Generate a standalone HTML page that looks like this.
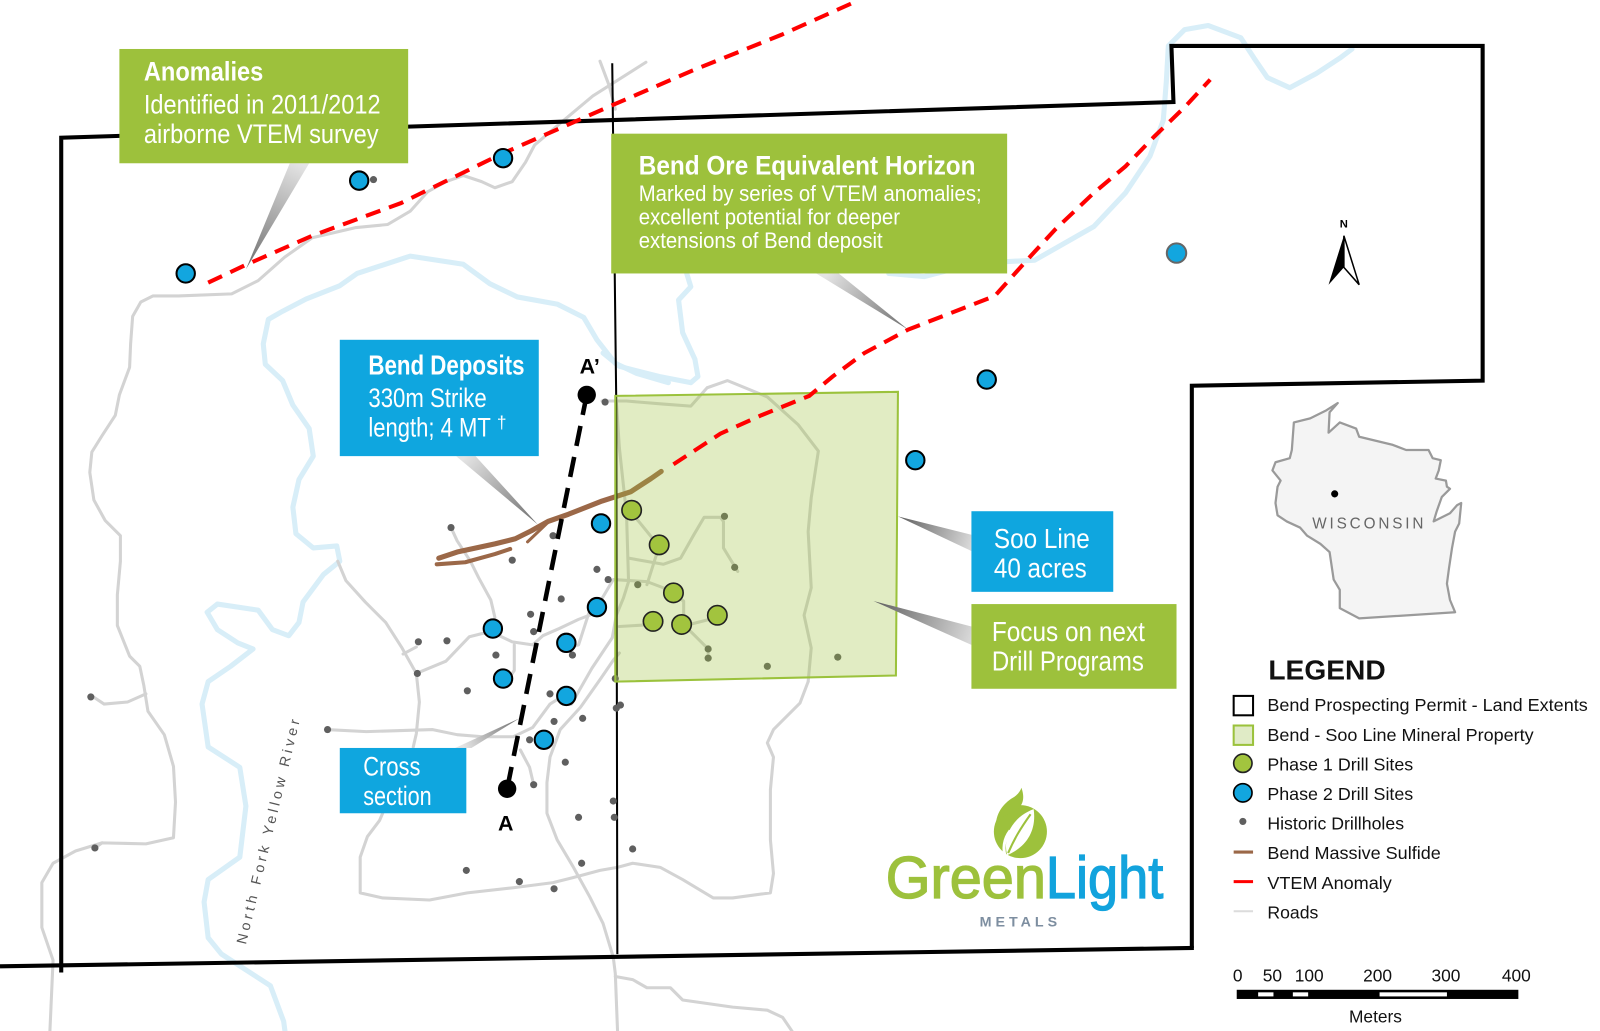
<!DOCTYPE html>
<html>
<head>
<meta charset="utf-8">
<style>
  html, body { margin:0; padding:0; background:#fff; }
  svg { display:block; }
  text { font-family: "Liberation Sans", Arial, sans-serif; }
</style>
</head>
<body>
<svg width="1600" height="1031" viewBox="0 0 1600 1031" xmlns="http://www.w3.org/2000/svg">
  <defs>
    <linearGradient id="gA" gradientUnits="userSpaceOnUse" x1="293" y1="160" x2="241" y2="264">
      <stop offset="0" stop-color="#e4e4e4"/><stop offset="1" stop-color="#6e6e6e"/>
    </linearGradient>
    <linearGradient id="gB" gradientUnits="userSpaceOnUse" x1="811" y1="268" x2="890" y2="323">
      <stop offset="0" stop-color="#e4e4e4"/><stop offset="1" stop-color="#6e6e6e"/>
    </linearGradient>
    <linearGradient id="gC" gradientUnits="userSpaceOnUse" x1="456" y1="447" x2="527" y2="514">
      <stop offset="0" stop-color="#e4e4e4"/><stop offset="1" stop-color="#6e6e6e"/>
    </linearGradient>
    <linearGradient id="gD" gradientUnits="userSpaceOnUse" x1="952" y1="531" x2="880" y2="506">
      <stop offset="0" stop-color="#d8d8d8"/><stop offset="1" stop-color="#5e5e5e"/>
    </linearGradient>
    <linearGradient id="gE" gradientUnits="userSpaceOnUse" x1="952" y1="623" x2="856" y2="589">
      <stop offset="0" stop-color="#d8d8d8"/><stop offset="1" stop-color="#5e5e5e"/>
    </linearGradient>
    <linearGradient id="gF" gradientUnits="userSpaceOnUse" x1="455" y1="733" x2="509" y2="704">
      <stop offset="0" stop-color="#e4e4e4"/><stop offset="1" stop-color="#6e6e6e"/>
    </linearGradient>
  </defs>

  <rect x="0" y="0" width="1600" height="1031" fill="#ffffff"/>

  <g transform="scale(1.0204)">

  <!-- Rivers -->
  <g fill="none" stroke="#d8eef8" stroke-width="5" stroke-linejoin="round" stroke-linecap="round">
    <polyline points="655,375 624,366 603,356 585,333 572,311 546,298 507,291 480,278 454,259 402,251 350,268 333,280 300,293 277,305 263,313 258,337 260,357 277,373 287,397 303,420 307,447 293,470 287,497 290,523 307,537 330,535 333,550 317,563 297,590 293,610 283,623 267,617 253,598 213,592 203,600 213,617 233,630 248,636 226,653 204,668 198,690 204,732 235,752 241,790 235,840 204,862 200,884 204,919 217,935 265,966 278,1001 282,1031"/>
    <polyline points="591,346 607,359 646,369 677,375 684,369 681,352 669,326 665,294 677,281 673,268"/>
    <polyline points="871,268 906,271 956,258 1014,255 1072,222 1103,189 1127,153 1140,118 1143,80 1145,45 1161,29 1184,25 1216,37 1229,57 1242,76 1264,86 1290,72 1313,57 1325,48"/>
  </g>

  <!-- Roads -->
  <g fill="none" stroke="#d3d3d3" stroke-width="3" stroke-linejoin="round" stroke-linecap="round">
    <polyline points="633,61 581,94 550,120 524,142 515,159 502,178 485,184 472,178 454,172 437,178 419,188 402,207 380,220 349,223 306,233 279,252 253,275 227,288 175,290 150,290 138,296 130,310 128,337 127,360 117,387 113,407 100,427 90,443 88,463 92,490 103,510 118,525 118,550 115,583 115,613 127,643 137,653 141,672 145,697 161,720 170,751 172,786 170,821 143,827 100,826 74,834 52,846 41,865 41,909 52,941 48,1031"/>
    <polyline points="588,60 597,84 603,107"/>
    <polyline points="90,682 102,690 125,688 143,680"/>
    <polyline points="93,831 100,826"/>
    <polyline points="442,517 448,530 461,550 469,566 481,588 485,605 483,619"/>
    <polyline points="331,550 339,569 358,590 378,610 394,635 408,660"/>
    <polyline points="408,660 437,648 460,624 476,620 483,620 502,629 522,632 532,623 548,616 567,607 580,602"/>
    <polyline points="504,632 504,657 496,669"/>
    <polyline points="408,660 411,688 408,719 405,732"/>
    <polyline points="320,715 359,717 424,715 448,720 473,722 503,722 522,713 539,690 555,680"/>
    <polyline points="607,640 601,647 588,666 569,693 549,715 539,742 536,767 536,797 546,823 562,850 578,879 591,905 601,938 603,954 606,1031"/>
    <polyline points="510,735 519,752 523,769"/>
    <polyline points="577,601 567,632 554,635"/>
    <polyline points="395,641 408,634"/>
    <polyline points="375,797 372,804 360,820 353,840 353,860 353,875 375,880 421,882 458,875 503,870 542,865 562,860 588,853 605,850 620,846 647,850 669,862 699,880 718,880 755,875 758,856 755,823 755,774 758,742 752,728 758,715 784,689 792,668"/>
    <polyline points="603,957 620,960 634,968 657,968 669,980 718,987 752,990 767,997 790,1031"/>
    <polyline points="590,393 614,393 650,396 677,398 693,380 713,373 752,389 782,416 802,442 795,488 792,521 795,576 788,603 795,635 792,668"/>
    <polyline points="604,393 607,439 614,504 616,570 611,586 604,603 600,625"/>
    <polyline points="617,501 626,511 639,527 646,535 634,573"/>
    <polyline points="585,595 601,568 634,570 650,576 660,583 670,589 670,603 668,614"/>
    <polyline points="607,614 640,612"/>
    <polyline points="668,614 703,605"/>
    <polyline points="677,619 694,636 694,645"/>
    <polyline points="616,547 650,553 667,547 680,524 690,507 706,507 709,511 709,537 723,560"/>
    <polyline points="600,625 580,655 560,690"/>
  </g>

  <!-- Bend Massive Sulfide -->
  <g fill="none" stroke="#9b6848" stroke-linecap="round" stroke-linejoin="round">
    <polyline stroke-width="5" points="430,547 448,541 485,533 505,528 521,520 537,511 557,504 590,491 618,482 638,469 648,462"/>
    <polyline stroke-width="4" points="428,553 456,551 485,543 500,538"/>
    <polyline stroke-width="3" points="517,531 537,512"/>
  </g>

  <!-- Boundary -->
  <g fill="none" stroke="#000" stroke-linejoin="miter">
    <polyline stroke-width="4" points="60,953 60,135 1150,100 1148,45 1453,45 1453,373 1168,378 1168,929"/>
    <line stroke-width="4" x1="0" y1="947" x2="1170" y2="929"/>
    <polyline stroke-width="2" points="600,62 604,400 605,935"/>
  </g>

  <!-- Historic drillholes -->
  <g fill="#5f5f5f">
    <circle cx="366" cy="176" r="3.5"/><circle cx="593" cy="394" r="3.5"/><circle cx="442" cy="517" r="3.5"/>
    <circle cx="542" cy="525" r="3.5"/><circle cx="502" cy="549" r="3.5"/><circle cx="585" cy="558" r="3.5"/>
    <circle cx="596" cy="568" r="3.5"/><circle cx="625" cy="573" r="3.5"/><circle cx="710" cy="506" r="3.5"/>
    <circle cx="720" cy="556" r="3.5"/><circle cx="550" cy="587" r="3.5"/><circle cx="520" cy="602" r="3.5"/>
    <circle cx="523" cy="619" r="3.5"/><circle cx="410" cy="629" r="3.5"/><circle cx="438" cy="628" r="3.5"/>
    <circle cx="486" cy="642" r="3.5"/><circle cx="561" cy="642" r="3.5"/><circle cx="409" cy="660" r="3.5"/>
    <circle cx="694" cy="636" r="3.5"/><circle cx="694" cy="645" r="3.5"/><circle cx="752" cy="653" r="3.5"/>
    <circle cx="821" cy="644" r="3.5"/><circle cx="458" cy="677" r="3.5"/><circle cx="539" cy="680" r="3.5"/>
    <circle cx="603" cy="665" r="3.5"/><circle cx="608" cy="691" r="3.5"/><circle cx="604" cy="694" r="3.5"/>
    <circle cx="543" cy="707" r="3.5"/><circle cx="571" cy="704" r="3.5"/><circle cx="519" cy="725" r="3.5"/>
    <circle cx="554" cy="747" r="3.5"/><circle cx="523" cy="769" r="3.5"/><circle cx="601" cy="785" r="3.5"/>
    <circle cx="602" cy="801" r="3.5"/><circle cx="567" cy="801" r="3.5"/><circle cx="620" cy="832" r="3.5"/>
    <circle cx="570" cy="846" r="3.5"/><circle cx="457" cy="853" r="3.5"/><circle cx="509" cy="864" r="3.5"/>
    <circle cx="543" cy="871" r="3.5"/><circle cx="321" cy="715" r="3.5"/><circle cx="89" cy="683" r="3.5"/>
    <circle cx="93" cy="831" r="3.5"/>
  </g>

  <!-- Soo Line property -->
  <polygon points="603,388 880,384 878,662 603,668" fill="#9dc13c" fill-opacity="0.31" stroke="#9bc23c" stroke-width="2"/>

  <!-- VTEM anomalies -->
  <g fill="none" stroke="#ff0000" stroke-width="4" stroke-dasharray="15 9">
    <polyline points="204,277 240,260 306,231 393,199 489,152 598,104 679,69 766,34 842,0"/>
    <polyline points="660,455 706,425 746,407 793,388 816,369 847,346 890,323 975,290 983,281 1010,251 1034,225 1072,189 1103,163 1131,134 1162,104 1186,78"/>
  </g>

  <!-- Cross section line -->
  <line x1="575" y1="387" x2="497" y2="773" stroke="#000" stroke-width="4.5" stroke-dasharray="20 11"/>
  <circle cx="575" cy="387" r="9" fill="#000"/>
  <circle cx="497" cy="773" r="9" fill="#000"/>
  <text x="568" y="366" font-size="21" font-weight="bold" fill="#000">A’</text>
  <text x="488" y="814" font-size="21" font-weight="bold" fill="#000">A</text>

  <!-- Phase 2 drill sites -->
  <g fill="#12a6df" stroke="#000" stroke-width="2">
    <circle cx="182" cy="268" r="9"/><circle cx="352" cy="177" r="9"/><circle cx="493" cy="155" r="9"/>
    <circle cx="589" cy="513" r="9"/><circle cx="585" cy="595" r="9"/><circle cx="483" cy="616" r="9"/>
    <circle cx="555" cy="630" r="9"/><circle cx="493" cy="665" r="9"/><circle cx="555" cy="682" r="9"/>
    <circle cx="533" cy="725" r="9"/><circle cx="897" cy="451" r="9"/><circle cx="967" cy="372" r="9"/>
  </g>
  <circle cx="1153" cy="248" r="9.5" fill="#12a6df" stroke="#666" stroke-width="2"/>

  <!-- Phase 1 drill sites -->
  <g fill="#a2c43e" stroke="#222" stroke-width="1.6">
    <circle cx="619" cy="500" r="9.5"/><circle cx="646" cy="534" r="9.5"/><circle cx="660" cy="581" r="9.5"/>
    <circle cx="640" cy="609" r="9.5"/><circle cx="668" cy="612" r="9.5"/><circle cx="703" cy="603" r="9.5"/>
  </g>

  <!-- Pointers -->
  <polygon points="284,160 303,160 241,264" fill="url(#gA)"/>
  <polygon points="800,268 822,268 890,323" fill="url(#gB)"/>
  <polygon points="447,447 466,447 527,514" fill="url(#gC)"/>
  <polygon points="952,524 952,540 880,506" fill="url(#gD)"/>
  <polygon points="952,614 952,632 856,589" fill="url(#gE)"/>
  <polygon points="446,733 462,733 509,704" fill="url(#gF)"/>

  <!-- Callout boxes -->
  <rect x="117" y="48" width="283" height="112" fill="#9dc13c"/>
  <g fill="#fff">
    <text x="141" y="79" font-size="26" font-weight="bold" textLength="117" lengthAdjust="spacingAndGlyphs">Anomalies</text>
    <text x="141" y="111" font-size="26" textLength="232" lengthAdjust="spacingAndGlyphs">Identified in 2011/2012</text>
    <text x="141" y="140" font-size="26" textLength="230" lengthAdjust="spacingAndGlyphs">airborne VTEM survey</text>
  </g>

  <rect x="599" y="131" width="388" height="137" fill="#9dc13c"/>
  <g fill="#fff">
    <text x="626" y="171" font-size="26" font-weight="bold" textLength="330" lengthAdjust="spacingAndGlyphs">Bend Ore Equivalent Horizon</text>
    <text x="626" y="197" font-size="22" textLength="336" lengthAdjust="spacingAndGlyphs">Marked by series of VTEM anomalies;</text>
    <text x="626" y="220" font-size="22" textLength="256" lengthAdjust="spacingAndGlyphs">excellent potential for deeper</text>
    <text x="626" y="243" font-size="22" textLength="239" lengthAdjust="spacingAndGlyphs">extensions of Bend deposit</text>
  </g>

  <rect x="333" y="333" width="195" height="114" fill="#0fa6df"/>
  <g fill="#fff">
    <text x="361" y="367" font-size="27" font-weight="bold" textLength="153" lengthAdjust="spacingAndGlyphs">Bend Deposits</text>
    <text x="361" y="399" font-size="26" textLength="116" lengthAdjust="spacingAndGlyphs">330m Strike</text>
    <text x="361" y="428" font-size="26" textLength="120" lengthAdjust="spacingAndGlyphs">length; 4 MT</text>
    <text x="487" y="420" font-size="17">†</text>
  </g>

  <rect x="952" y="501" width="139" height="79" fill="#0fa6df"/>
  <g fill="#fff">
    <text x="974" y="537" font-size="27" textLength="94" lengthAdjust="spacingAndGlyphs">Soo Line</text>
    <text x="974" y="566" font-size="27" textLength="91" lengthAdjust="spacingAndGlyphs">40 acres</text>
  </g>

  <rect x="952" y="592" width="201" height="83" fill="#9dc13c"/>
  <g fill="#fff">
    <text x="972" y="628" font-size="27" textLength="150" lengthAdjust="spacingAndGlyphs">Focus on next</text>
    <text x="972" y="657" font-size="27" textLength="149" lengthAdjust="spacingAndGlyphs">Drill Programs</text>
  </g>

  <rect x="333" y="733" width="124" height="64" fill="#0fa6df"/>
  <g fill="#fff">
    <text x="356" y="760" font-size="26" textLength="56" lengthAdjust="spacingAndGlyphs">Cross</text>
    <text x="356" y="789" font-size="26" textLength="67" lengthAdjust="spacingAndGlyphs">section</text>
  </g>

  <!-- River label -->
  <text transform="translate(241,926) rotate(-76.5)" font-size="14" fill="#555" textLength="226" lengthAdjust="spacing">North Fork Yellow River</text>

  <!-- North arrow -->
  <text x="1317" y="223" font-size="11" font-weight="bold" text-anchor="middle" fill="#000">N</text>
  <polygon points="1317,231 1302,279 1317,262" fill="#000"/>
  <polygon points="1317,231 1332,279 1317,262" fill="#fff" stroke="#000" stroke-width="1.5" stroke-linejoin="miter"/>

  <!-- Wisconsin -->
  <polygon points="1311,395 1303,404 1302,424 1313,414 1329,420 1332,428 1365,436 1378,441 1400,441 1404,449 1412,451 1410,461 1407,469 1417,471 1418,477 1421,479 1413,487 1408,501 1405,511 1421,503 1428,495 1432,493 1430,513 1426,521 1423,537 1420,557 1418,572 1421,588 1426,600 1332,606 1313,596 1313,578 1307,568 1303,541 1294,533 1281,525 1274,517 1261,511 1252,505 1250,493 1252,477 1255,471 1247,461 1250,453 1264,449 1266,441 1268,414 1284,410 1300,402" fill="#f4f4f4" stroke="#9a9a9a" stroke-width="2.2" stroke-linejoin="round"/>
  <circle cx="1308" cy="484" r="3.5" fill="#000"/>
  <text x="1286" y="518" font-size="15" fill="#666" textLength="109" lengthAdjust="spacing">WISCONSIN</text>

  <!-- Legend -->
  <text x="1243" y="666" font-size="27" font-weight="bold" fill="#111" textLength="115" lengthAdjust="spacingAndGlyphs">LEGEND</text>
  <rect x="1209" y="682" width="19" height="19" fill="#fff" stroke="#000" stroke-width="2"/>
  <rect x="1209" y="711" width="19" height="19" fill="#e0ebc6" stroke="#9bc23c" stroke-width="2"/>
  <circle cx="1218" cy="748" r="9" fill="#a2c43e" stroke="#222" stroke-width="1.6"/>
  <circle cx="1218" cy="777" r="9" fill="#12a6df" stroke="#000" stroke-width="1.6"/>
  <circle cx="1218" cy="805" r="3.5" fill="#5f5f5f"/>
  <line x1="1209" y1="835" x2="1228" y2="835" stroke="#9b6848" stroke-width="3"/>
  <line x1="1209" y1="864" x2="1228" y2="864" stroke="#ff0000" stroke-width="3"/>
  <line x1="1209" y1="893" x2="1228" y2="893" stroke="#dcdcdc" stroke-width="2"/>
  <g font-size="17.5" fill="#111">
    <text x="1242" y="697" textLength="314" lengthAdjust="spacingAndGlyphs">Bend Prospecting Permit - Land Extents</text>
    <text x="1242" y="726" textLength="261" lengthAdjust="spacingAndGlyphs">Bend - Soo Line Mineral Property</text>
    <text x="1242" y="755" textLength="143" lengthAdjust="spacingAndGlyphs">Phase 1 Drill Sites</text>
    <text x="1242" y="784" textLength="143" lengthAdjust="spacingAndGlyphs">Phase 2 Drill Sites</text>
    <text x="1242" y="813" textLength="134" lengthAdjust="spacingAndGlyphs">Historic Drillholes</text>
    <text x="1242" y="842" textLength="170" lengthAdjust="spacingAndGlyphs">Bend Massive Sulfide</text>
    <text x="1242" y="871" textLength="122" lengthAdjust="spacingAndGlyphs">VTEM Anomaly</text>
    <text x="1242" y="900" textLength="50" lengthAdjust="spacingAndGlyphs">Roads</text>
  </g>

  <!-- Scale bar -->
  <g font-size="17" fill="#111" text-anchor="middle">
    <text x="1213" y="962">0</text>
    <text x="1247" y="962">50</text>
    <text x="1283" y="962">100</text>
    <text x="1350" y="962">200</text>
    <text x="1417" y="962">300</text>
    <text x="1486" y="962">400</text>
    <text x="1348" y="1002">Meters</text>
  </g>
  <rect x="1212" y="970" width="276" height="9" fill="#000"/>
  <rect x="1233" y="972.5" width="15" height="4" fill="#fff"/>
  <rect x="1267" y="972.5" width="15" height="4" fill="#fff"/>
  <rect x="1352" y="972.5" width="66" height="4" fill="#fff"/>

  <!-- GreenLight logo -->
  <circle cx="1000" cy="815" r="26" fill="#9dc13c"/>
  <path d="M1001,772 C1006,786 1000,794 988,798 C 982,800 978,806 976,812 C 975,796 985,786 994,781 C 998,778 1000,775 1001,772 Z" fill="#9dc13c"/>
  <path d="M987,838 C 982,818 994,800 1013,793 C 1016,814 1006,830 987,838 Z" fill="#fff"/>
  <path d="M988,836 C 994,822 1000,812 1010,798" fill="none" stroke="#9dc13c" stroke-width="2"/>
  <path d="M986,842 C 982,832 984,822 990,814" fill="none" stroke="#fff" stroke-width="3"/>
  <text x="868" y="880" font-size="58" fill="#9dc13c" stroke="#9dc13c" stroke-width="1.3" textLength="157" lengthAdjust="spacingAndGlyphs">Green</text>
  <text x="1025" y="880" font-size="58" fill="#12a3dd" stroke="#12a3dd" stroke-width="1.3" textLength="115" lengthAdjust="spacingAndGlyphs">Light</text>
  <text x="960" y="908" font-size="14" font-weight="bold" fill="#7d8ea0" textLength="76" lengthAdjust="spacing">METALS</text>

  </g>
</svg>
</body>
</html>
